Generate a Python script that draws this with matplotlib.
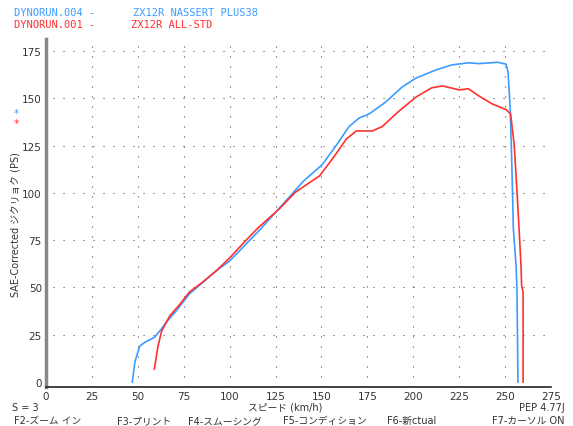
import matplotlib
matplotlib.use('Agg')
import matplotlib.pyplot as plt

plt.rcParams['font.family'] = ['DejaVu Sans', 'Noto Sans CJK JP']

# Run 004 - ZX12R NASSERT PLUS38 (blue)
speed_004 = [47, 48.4, 51, 53.8, 59, 62, 65.6, 71, 78, 85.5, 92.7, 100, 108, 116, 129, 140, 150.5,
             158, 165, 170.6, 176, 185, 194, 201.6, 212.5, 221, 230, 236, 243, 246, 250.5, 251.6,
             252.7, 253.3, 254, 254.5, 256, 256.5, 257]
ps_004 = [0, 10.5, 19, 21, 23.6, 27, 31.7, 37.7, 46.5, 52.8, 58.8, 64, 72, 80, 94, 106, 115,
          125, 135, 139.6, 141.7, 148, 156, 160.7, 165, 167.6, 168.7, 168.3, 168.8, 169, 168, 164,
          146, 128.5, 102, 81, 61, 47.6, 0]

# Run 001 - ZX12R ALL-STD (red)
speed_001 = [59, 61, 63, 67.4, 72.8, 78, 85.5, 92.7, 100, 108, 116, 127, 136, 149, 156, 163.6,
             169, 177.7, 183, 192, 201.6, 210, 216, 225, 230, 236, 243, 250.5, 253, 255, 256.5,
             257.6, 258.7, 259, 259.8, 259.8]
ps_001 = [6.9, 19, 27, 35, 41, 47.5, 53, 58.8, 65.6, 74, 82, 91.5, 100.5, 109, 118, 128.5,
          132.7, 132.7, 135, 143, 150.7, 155.5, 156.5, 154.4, 155, 151, 147, 144, 141.7, 125, 100.5,
          81, 61, 51, 47.6, 0]

x_ticks = [0, 25, 50, 75, 100, 125, 150, 175, 200, 225, 250, 275]
y_ticks = [0, 25, 50, 75, 100, 125, 150, 175]

BLUE = '#3c9cff'
RED = '#ff3030'
TXT = '#333333'

fig = plt.figure(figsize=(5.73, 4.27), dpi=100)
ax = fig.add_axes([46 / 573, 1 - 388 / 427, 505 / 573, 348 / 427])

# dotted grid
for gx in x_ticks[1:]:
    ax.plot([gx, gx], [-2.6, 181], color='#555555', lw=0.8, ls=(0, (1, 8)), zorder=1)
for gy in y_ticks[1:]:
    ax.plot([4, 275], [gy, gy], color='#555555', lw=0.8, ls=(0, (1, 8)), zorder=1)

ax.plot(speed_004, ps_004, color=BLUE, lw=1.2, zorder=3)
ax.plot(speed_001, ps_001, color=RED, lw=1.2, zorder=3)

ax.set_xlim(0, 275)
ax.set_ylim(-2.6, 181.3)
ax.set_xticks(x_ticks)
ax.set_yticks(y_ticks)
ax.tick_params(length=0, labelsize=7.5, colors=TXT, pad=3)
for s in ['top', 'right']:
    ax.spines[s].set_visible(False)
ax.spines['left'].set_color('#888888')
ax.spines['left'].set_linewidth(2.5)
ax.spines['bottom'].set_color('#222222')
ax.spines['bottom'].set_linewidth(1.2)

# header
mono = dict(family='DejaVu Sans Mono', fontsize=7.5, va='baseline')
fig.text(14 / 573, 1 - 16 / 427, 'DYNORUN.004 -', color=BLUE, **mono)
fig.text(133 / 573, 1 - 16 / 427, 'ZX12R NASSERT PLUS38', color=BLUE, **mono)
fig.text(14 / 573, 1 - 28 / 427, 'DYNORUN.001 -', color=RED, **mono)
fig.text(131 / 573, 1 - 28 / 427, 'ZX12R ALL-STD', color=RED, **mono)

fig.text(16 / 573, 1 - 117 / 427, '*', color=BLUE, fontsize=7.5, ha='center', va='baseline')
fig.text(16 / 573, 1 - 127 / 427, '*', color=RED, fontsize=7.5, ha='center', va='baseline')

fig.text(16 / 573, 1 - 225 / 427, 'SAE-Corrected ジクリョク (PS)', rotation=90,
         fontsize=7, color=TXT, ha='center', va='center')

# footer
fs = 7
fig.text(12 / 573, 1 - 411 / 427, 'S = 3', fontsize=fs, va='baseline', color=TXT)
fig.text(285 / 573, 1 - 411 / 427, 'スピード (km/h)', fontsize=fs, ha='center', va='baseline', color=TXT)
fig.text(565 / 573, 1 - 411 / 427, 'PEP 4.77J', fontsize=fs, ha='right', va='baseline', color=TXT)

keys = ['F2-ズーム イン', 'F3-プリント', 'F4-スムーシング', 'F5-コンディション', 'F6-新ctual', 'F7-カーソル ON']
key_x = [14, 117, 188, 283, 387, 492]
for k, kx in zip(keys, key_x):
    fig.text(kx / 573, 1 - 424 / 427, k, fontsize=fs, va='baseline', color=TXT)

fig.savefig('out.png', dpi=100)
